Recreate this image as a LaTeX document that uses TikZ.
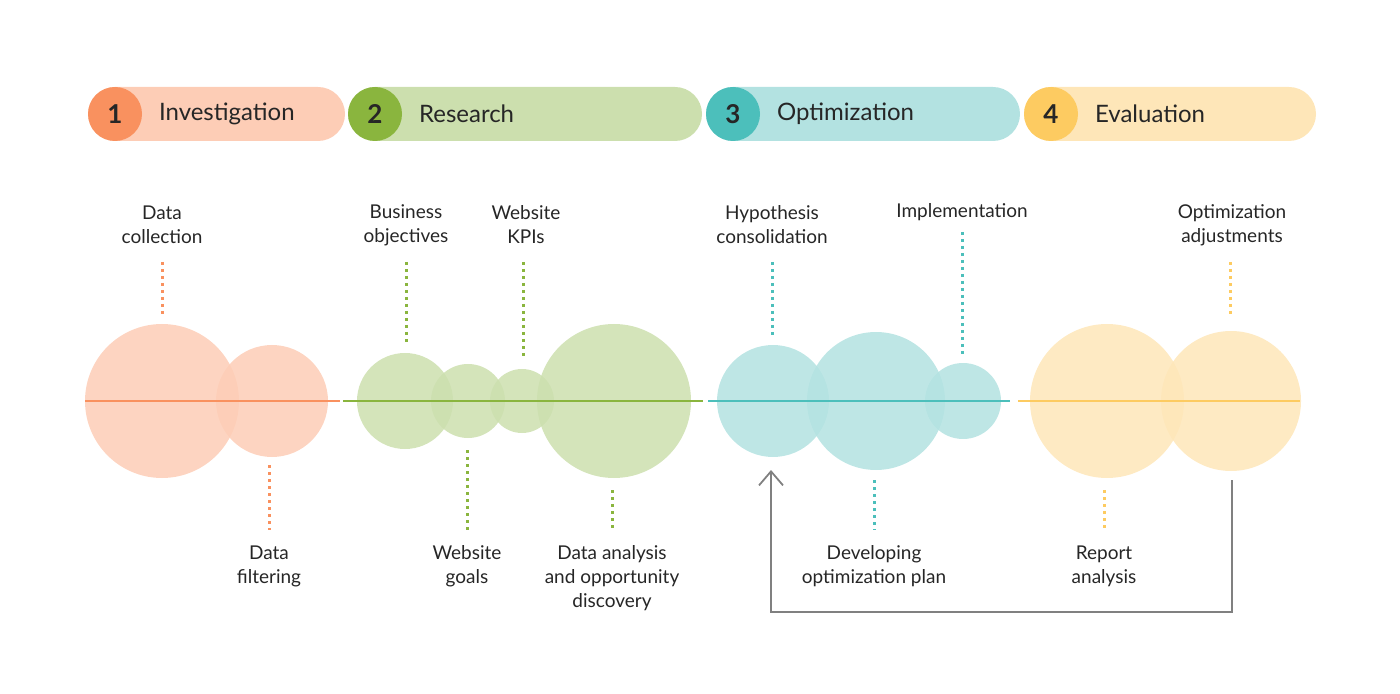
\documentclass[tikz,border=0pt]{standalone}
\usepackage{fontspec}
\setmainfont{Lato}
\usetikzlibrary{arrows.meta}
\definecolor{orL}{HTML}{FDCDB6}\definecolor{orD}{HTML}{F9915F}
\definecolor{grL}{HTML}{CCDFAE}\definecolor{grD}{HTML}{8AB53E}
\definecolor{tlL}{HTML}{B3E2E1}\definecolor{tlD}{HTML}{4CBFBB}
\definecolor{ylL}{HTML}{FEE6B8}\definecolor{ylD}{HTML}{FDCB61}
\begin{document}
\begin{tikzpicture}[x=0.5pt,y=-0.5pt,
    bar/.style={rounded corners=13.5pt},
    num/.style={circle,minimum size=27pt,inner sep=0pt,font=\fontsize{13}{13}\selectfont\bfseries,text=black!85},
    phase/.style={anchor=west,font=\fontsize{12}{12}\selectfont,text=black!85},
    bubble/.style={circle,inner sep=0pt,fill opacity=0.85},
    lbl/.style={align=center,font=\fontsize{9.5}{12}\selectfont,text=black!85},
    dots/.style={line width=1.5pt,dash pattern=on 1.5pt off 2pt}
    ]
\useasboundingbox (0,0) rectangle (1400,694);
% phase bars
\fill[bar,orL] (88,87) rectangle (345,141);
\fill[bar,grL] (348,87) rectangle (702,141);
\fill[bar,tlL] (706,87) rectangle (1020,141);
\fill[bar,ylL] (1024,87) rectangle (1316,141);
\node[num,fill=orD] (n1) at (115,114) {1};
\node[num,fill=grD] (n2) at (375,114) {2};
\node[num,fill=tlD] (n3) at (733,114) {3};
\node[num,fill=ylD] (n4) at (1051,114) {4};
\node[phase] at (152,114) {Investigation};
\node[phase] at (412,114) {Research};
\node[phase] at (770,114) {Optimization};
\node[phase] at (1088,114) {Evaluation};
% bubbles
\node[bubble,fill=orL,minimum size=77pt] (c1) at (162,401) {};
\node[bubble,fill=orL,minimum size=56pt] (c2) at (272,401) {};
\node[bubble,fill=grL,minimum size=48pt] (c3) at (405,401) {};
\node[bubble,fill=grL,minimum size=37pt] (c4) at (468,401) {};
\node[bubble,fill=grL,minimum size=32pt] (c5) at (522,401) {};
\node[bubble,fill=grL,minimum size=77pt] (c6) at (614,401) {};
\node[bubble,fill=tlL,minimum size=56pt] (c7) at (773,401) {};
\node[bubble,fill=tlL,minimum size=69pt] (c8) at (876,401) {};
\node[bubble,fill=tlL,minimum size=38pt] (c9) at (963,401) {};
\node[bubble,fill=ylL,minimum size=77pt] (c10) at (1107,401) {};
\node[bubble,fill=ylL,minimum size=70pt] (c11) at (1231,401) {};
\draw[orD,line width=1.2pt] (85,401) -- (340,401);
\draw[grD,line width=1.2pt] (343,401) -- (703,401);
\draw[tlD,line width=1.2pt] (708,401) -- (1010,401);
\draw[ylD,line width=1.2pt] (1018,401) -- (1300,401);
% labels
\node[lbl] (l1) at (162,225) {Data\\collection};
\node[lbl] (l2) at (269,566) {Data\\filtering};
\node[lbl] (l3) at (406,225) {Business\\objectives};
\node[lbl] (l4) at (526,225) {Website\\KPIs};
\node[lbl] (l5) at (467,566) {Website\\goals};
\node[lbl] (l6) at (612,578) {Data analysis\\and opportunity\\discovery};
\node[lbl] (l7) at (772,225) {Hypothesis\\consolidation};
\node[lbl] (l8) at (962,212) {Implementation};
\node[lbl] (l9) at (874,566) {Developing\\optimization plan};
\node[lbl] (l10) at (1232,225) {Optimization\\adjustments};
\node[lbl] (l11) at (1104,566) {Report\\analysis};
% dotted leaders
\draw[dots,orD] (162,262) -- (162,318);
\draw[dots,orD] (269,465) -- (269,530);
\draw[dots,grD] (406,262) -- (406,345);
\draw[dots,grD] (523,262) -- (523,360);
\draw[dots,grD] (467,450) -- (467,530);
\draw[dots,grD] (612,490) -- (612,530);
\draw[dots,tlD] (772,262) -- (772,336);
\draw[dots,tlD] (962,232) -- (962,355);
\draw[dots,tlD] (874,480) -- (874,530);
\draw[dots,ylD] (1230,262) -- (1230,318);
\draw[dots,ylD] (1104,490) -- (1104,530);
% feedback loop
\coordinate (fb1) at (1232,480);
\coordinate (fb2) at (771,470);
\draw[gray,line width=0.9pt,-{Straight Barb[length=7pt,width=12pt]}]
  (fb1) -- (1232,612) -- (771,612) -- (fb2);
\end{tikzpicture}
\end{document}
